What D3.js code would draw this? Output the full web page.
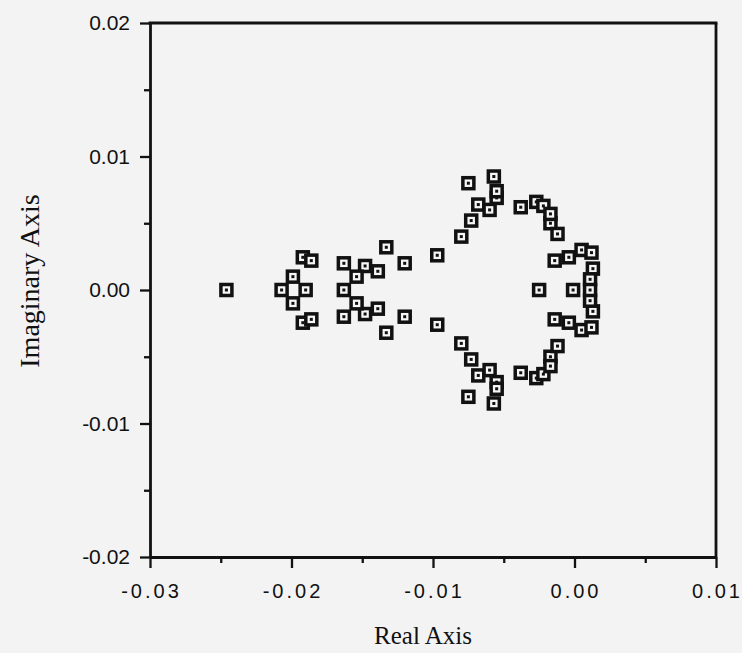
<!DOCTYPE html>
<html>
<head>
<meta charset="utf-8">
<script src="https://cdn.jsdelivr.net/npm/d3@7"></script>
<style>
  html, body { margin: 0; padding: 0; background: #f3f3f3; }
  svg { display: block; }
</style>
</head>
<body>
<svg id="chart" width="742" height="653"></svg>
<script>
// ---- Data (real and imaginary parts of the plotted roots) ----
const realParts = [
  -0.0246,
  -0.0207, -0.0190, -0.0199, -0.0199,
  -0.0192, -0.0192, -0.0186, -0.0186,
  -0.0163, -0.0163, -0.0148, -0.0148, -0.0139, -0.0139, -0.0154, -0.0154, -0.0163,
  -0.0133, -0.0133, -0.0120, -0.0120, -0.0097, -0.0097,
  -0.0080, -0.0080, -0.0073, -0.0073, -0.0068, -0.0068, -0.0060, -0.0060,
  -0.0055, -0.0055, -0.0055, -0.0055, -0.0057, -0.0057, -0.0075, -0.0075,
  -0.0038, -0.0038, -0.0027, -0.0027, -0.0022, -0.0022, -0.0017, -0.0017,
  -0.0017, -0.0017, -0.0012, -0.0012,
  -0.0025, -0.0001,
  -0.0014, -0.0014, -0.0004, -0.0004, 0.0005, 0.0005, 0.0012, 0.0012,
  0.0013, 0.0013, 0.0011, 0.0011, 0.0011
];
const imagParts = [
  0.0000,
  0.0000, 0.0000, 0.0010, -0.0010,
  0.00245, -0.00245, 0.0022, -0.0022,
  0.0020, -0.0020, 0.0018, -0.0018, 0.0014, -0.0014, 0.0010, -0.0010, 0.0000,
  0.0032, -0.0032, 0.0020, -0.0020, 0.0026, -0.0026,
  0.0040, -0.0040, 0.0052, -0.0052, 0.0064, -0.0064, 0.0060, -0.0060,
  0.0069, -0.0069, 0.0074, -0.0074, 0.0085, -0.0085, 0.0080, -0.0080,
  0.0062, -0.0062, 0.0066, -0.0066, 0.0063, -0.0063, 0.0050, -0.0050,
  0.0057, -0.0057, 0.0042, -0.0042,
  0.0000, 0.0000,
  0.0022, -0.0022, 0.00245, -0.00245, 0.0030, -0.0030, 0.0028, -0.0028,
  0.0016, -0.0016, 0.0008, -0.0008, 0.0000
];

const xDomain = [-0.03, 0.01];
const yDomain = [-0.02, 0.02];
const xMajorTicks = [-0.03, -0.02, -0.01, 0.00, 0.01];
const xTickLabels = ["-0.03", "-0.02", "-0.01", "0.00", "0.01"];
const xMinorTicks = [-0.025, -0.015, -0.005, 0.005];
const yMajorTicks = [-0.02, -0.01, 0.00, 0.01, 0.02];
const yTickLabels = ["-0.02", "-0.01", "0.00", "0.01", "0.02"];
const yMinorTicks = [-0.015, -0.005, 0.005, 0.015];
const xTitle = "Real Axis";
const yTitle = "Imaginary Axis";

// ---- Layout ----
const margin = { left: 150, top: 23, right: 26, bottom: 96 };
const W = 742, H = 653;
const iw = W - margin.left - margin.right;   // 566
const ih = H - margin.top - margin.bottom;   // 534

const svg = d3.select("#chart");
svg.append("rect").attr("width", W).attr("height", H).attr("fill", "#f3f3f3");

const g = svg.append("g").attr("transform", `translate(${margin.left},${margin.top})`);

const x = d3.scaleLinear().domain(xDomain).range([0, iw]);
const y = d3.scaleLinear().domain(yDomain).range([ih, 0]);

const tickFont = "'Liberation Sans', Arial, Helvetica, sans-serif";
const titleFont = "'Liberation Serif', 'Times New Roman', Times, serif";
const ink = "#111";

// Minor ticks
const xMinorAxis = d3.axisBottom(x).tickValues(xMinorTicks).tickSize(6).tickFormat("");
const yMinorAxis = d3.axisLeft(y).tickValues(yMinorTicks).tickSize(6).tickFormat("");
g.append("g").attr("transform", `translate(0,${ih})`).call(xMinorAxis)
  .call(s => s.select(".domain").remove())
  .selectAll("line").attr("stroke", ink).attr("stroke-width", 2.3);
g.append("g").call(yMinorAxis)
  .call(s => s.select(".domain").remove())
  .selectAll("line").attr("stroke", ink).attr("stroke-width", 2.3);

// Major axes
const xAxis = d3.axisBottom(x).tickValues(xMajorTicks).tickSize(11).tickSizeOuter(0)
  .tickPadding(16).tickFormat((d, i) => xTickLabels[i]);
const yAxis = d3.axisLeft(y).tickValues(yMajorTicks).tickSize(10).tickSizeOuter(0)
  .tickPadding(10).tickFormat((d, i) => yTickLabels[i]);

const gx = g.append("g").attr("transform", `translate(0,${ih})`).call(xAxis);
gx.select(".domain").attr("stroke", ink).attr("stroke-width", 2.8);
gx.selectAll(".tick line").attr("stroke", ink).attr("stroke-width", 2.3);
gx.selectAll(".tick text")
  .attr("font-family", tickFont).attr("font-size", 20).attr("fill", ink)
  .attr("letter-spacing", "3px").attr("dx", "1px");

const gy = g.append("g").call(yAxis);
gy.select(".domain").attr("stroke", ink).attr("stroke-width", 2.8);
gy.selectAll(".tick line").attr("stroke", ink).attr("stroke-width", 2.3);
gy.selectAll(".tick text")
  .attr("font-family", tickFont).attr("font-size", 21).attr("fill", ink);

// Top and right frame
g.append("line").attr("x1", x(xDomain[0]) - 1.4).attr("x2", x(xDomain[1]) + 1.4)
  .attr("y1", y(yDomain[1])).attr("y2", y(yDomain[1]))
  .attr("stroke", ink).attr("stroke-width", 2.8);
g.append("line").attr("x1", x(xDomain[1])).attr("x2", x(xDomain[1]))
  .attr("y1", y(yDomain[1])).attr("y2", y(yDomain[0]))
  .attr("stroke", ink).attr("stroke-width", 2.8);

// Axis titles
svg.append("text")
  .attr("x", 423).attr("y", 644)
  .attr("text-anchor", "middle")
  .attr("font-family", titleFont).attr("font-size", 25).attr("fill", ink)
  .text(xTitle);
svg.append("text")
  .attr("transform", `translate(39,${margin.top + ih / 2 - 9}) rotate(-90)`)
  .attr("text-anchor", "middle")
  .attr("font-family", titleFont).attr("font-size", 28).attr("fill", ink)
  .text(yTitle);

// Markers: square with hollow centre and a dot
const pts = realParts.map((r, i) => ({ re: r, im: imagParts[i] }));
const outer = 14.5, inner = 7.5, dot = 3;
const mk = g.append("g").selectAll("g.pt").data(pts).join("g")
  .attr("class", "pt")
  .attr("transform", d => `translate(${x(d.re)},${y(d.im)})`);
mk.append("rect").attr("x", -outer / 2).attr("y", -outer / 2)
  .attr("width", outer).attr("height", outer).attr("fill", ink);
mk.append("rect").attr("x", -inner / 2).attr("y", -inner / 2)
  .attr("width", inner).attr("height", inner).attr("fill", "#f6f6f6");
mk.append("rect").attr("x", -dot / 2).attr("y", -dot / 2)
  .attr("width", dot).attr("height", dot).attr("fill", ink);
</script>
</body>
</html>
